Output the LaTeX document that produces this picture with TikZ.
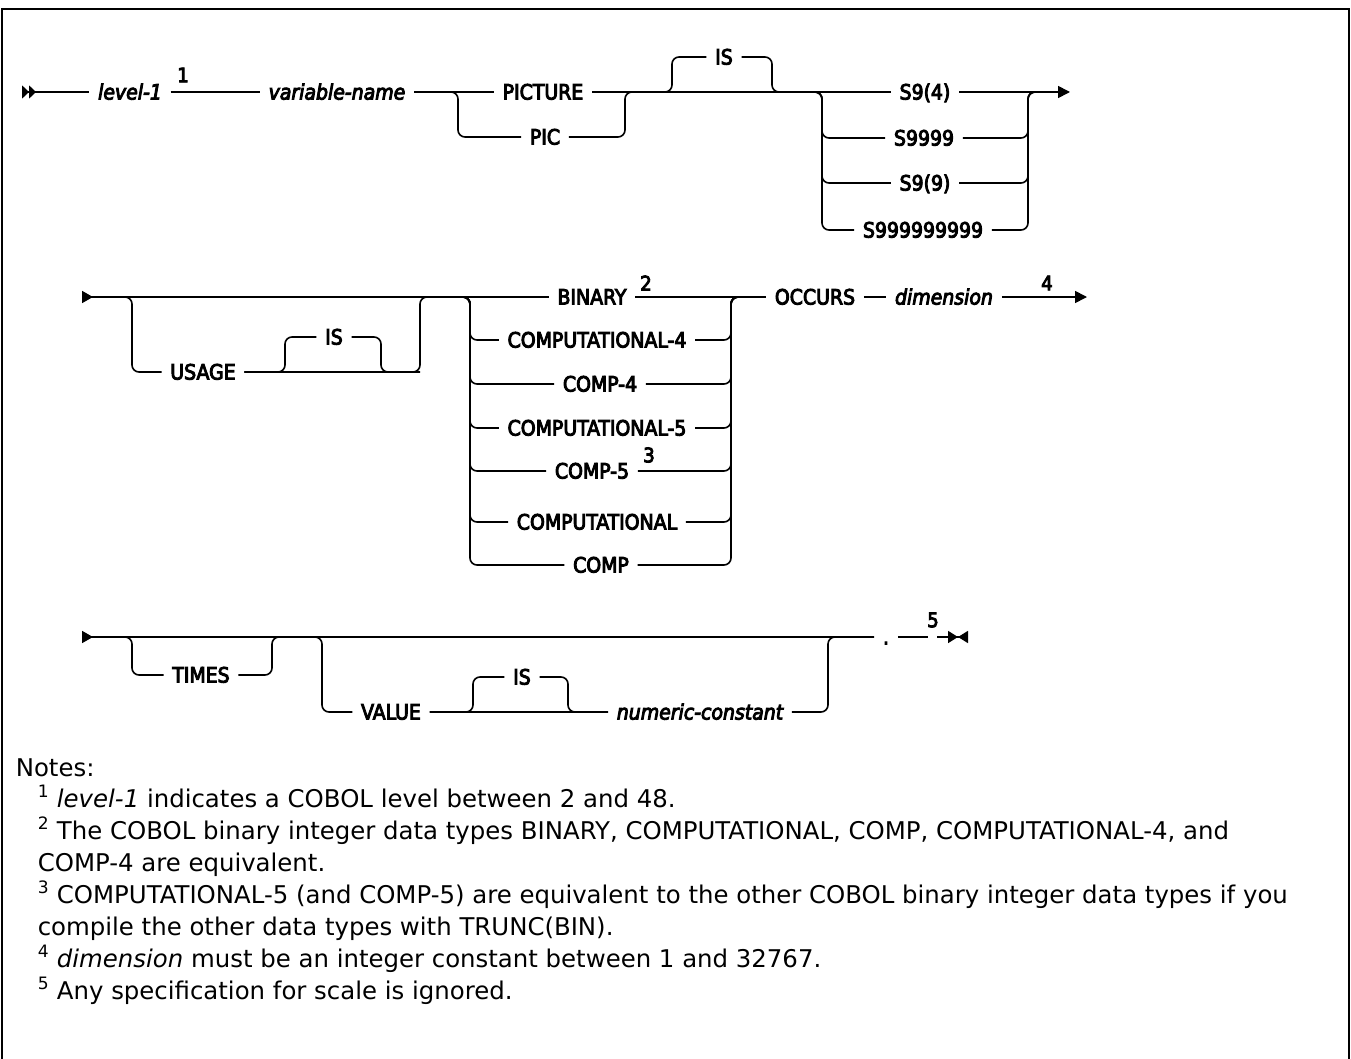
\documentclass[tikz,border=0pt]{standalone}
\usepackage{fontspec}
\setmainfont{DejaVu Sans}
\newfontfamily\kwfont[FakeBold=4.5]{DejaVu Sans Condensed}
\usetikzlibrary{arrows.meta}

\begin{document}
\begin{tikzpicture}[x=1pt,y=-1pt,line width=1.6pt,
  kw/.style={font=\kwfont\fontsize{21}{24}\selectfont,inner xsep=8pt,inner ysep=0pt,text height=15pt,text depth=0pt},
  var/.style={kw,font=\kwfont\itshape\fontsize{21}{24}\selectfont},
  sup/.style={font=\kwfont\fontsize{20}{20}\selectfont,inner sep=0pt},
  note/.style={anchor=base west,inner sep=0pt,font=\fontsize{24.4}{28}\selectfont},
  rc/.style={rounded corners=7pt},
  tip/.style={-{Triangle[length=12pt,width=12pt]}},
  start1/.style={{Triangle[reversed,length=11pt,width=12pt]}-},
  start2/.style={{Triangle[reversed,length=7pt,width=13pt]Triangle[reversed,length=7pt,width=13pt]}-},
  endtip/.style={-{Triangle[length=10pt,width=12pt]Triangle[reversed,length=10pt,width=12pt]}}]
\useasboundingbox (0,0) rectangle (1351,1059);
\draw[line width=2.5pt] (2,1075) -- (2,9) -- (1349,9) -- (1349,1075);

% row 1
\coordinate (s1) at (22,92);
\node[var] (lev) at (130,92) {level-1};
\node[sup] (sup1) at (183,75) {1};
\node[var] (var) at (337,92) {variable-name};
\coordinate (a1) at (458,92);
\node[kw] (pict) at (543,92) {PICTURE};
\node[kw] (pic) at (545,137) {PIC};
\coordinate (b1) at (625,92);
\coordinate (u1) at (672,92);
\node[kw] (is1) at (724,57) {IS};
\coordinate (v1) at (772,92);
\coordinate (w1) at (822,92);
\node[kw] (s94) at (925,92) {S9(4)};
\node[kw] (s9999) at (924,138) {S9999};
\node[kw] (s99) at (925,183) {S9(9)};
\node[kw] (s9x) at (923,230) {S999999999};
\coordinate (x1) at (1028,92);
\coordinate (m1) at (1040,92);
\coordinate (e1) at (1070,92);

\draw[start2] (s1) -- (lev.west);
\draw (lev.east) -- (var.west);
\draw (var.east) -- (pict.west);
\draw[rc] (var.east) -- (a1) -- (a1 |- pic) -- (pic.west);
\draw[rc] (pic.east) -- (b1 |- pic) -- (b1) -- (u1);
\draw (pict.east) -- (s94.west);
\draw[rc] (b1) -- (u1) -- (u1 |- is1) -- (is1.west);
\draw[rc] (is1.east) -- (v1 |- is1) -- (v1) -- (w1);
\foreach \n in {s9999,s99,s9x}{
  \draw[rc] (v1) -- (w1) -- (w1 |- \n) -- (\n.west);
  \draw[rc] (\n.east) -- (x1 |- \n) -- (x1) -- (m1);
}
\draw[tip] (s94.east) -- (e1);

% row 2
\coordinate (s2) at (82,297);
\coordinate (a2) at (132,297);
\node[kw] (usage) at (203,372) {USAGE};
\coordinate (u2) at (285,372);
\node[kw] (is2) at (334,337) {IS};
\coordinate (v2) at (381,372);
\coordinate (b2) at (420,297);
\coordinate (w2) at (470,297);
\node[kw] (bin) at (592,297) {BINARY};
\node[sup] (sup2) at (646,283) {2};
\node[kw] (c4) at (597,340) {COMPUTATIONAL-4};
\node[kw] (cp4) at (600,384) {COMP-4};
\node[kw] (c5) at (597,428) {COMPUTATIONAL-5};
\node[kw] (cp5) at (592,471) {COMP-5};
\node[sup] (sup3) at (649,455) {3};
\node[kw] (comp) at (597,522) {COMPUTATIONAL};
\node[kw] (cmp) at (601,565) {COMP};
\coordinate (x2) at (731,297);
\coordinate (m2) at (743,297);
\node[kw] (occ) at (815,297) {OCCURS};
\node[var] (dim) at (944,297) {dimension};
\node[sup] (sup4) at (1047,283) {4};
\coordinate (e2) at (1087,297);

\draw[start1] (s2) -- (bin.west);
\draw[rc] (s2) -- (a2) -- (a2 |- usage) -- (usage.west);
\draw[rc] (usage.east) -- (b2 |- usage) -- (b2) -- (w2);
\draw[rc] (usage.east) -- (u2) -- (u2 |- is2) -- (is2.west);
\draw[rc] (is2.east) -- (v2 |- is2) -- (v2) -- (b2 |- usage);
\draw (bin.east) -- (occ.west);
\foreach \n in {c4,cp4,c5,cp5,comp,cmp}{
  \draw[rc] (b2) -- (w2) -- (w2 |- \n) -- (\n.west);
  \draw[rc] (\n.east) -- (x2 |- \n) -- (x2) -- (m2);
}
\draw (occ.east) -- (dim.west);
\draw[tip] (dim.east) -- (e2);

% row 3
\coordinate (s3) at (82,637);
\coordinate (a3) at (132,637);
\node[kw] (times) at (201,675) {TIMES};
\coordinate (b3) at (272,637);
\coordinate (w3) at (322,637);
\node[kw] (value) at (391,712) {VALUE};
\coordinate (u3) at (473,712);
\node[kw] (is3) at (522,677) {IS};
\coordinate (v3) at (568,712);
\node[var] (numc) at (700,712) {numeric-constant};
\coordinate (x3) at (828,637);
\node[kw] (dot) at (886,637) {.};
\coordinate (g1) at (928,637);
\node[sup] (sup5) at (933,620) {5};
\coordinate (g2) at (937,637);
\coordinate (e3) at (968,637);

\draw[start1] (s3) -- (dot.west);
\draw[rc] (s3) -- (a3) -- (a3 |- times) -- (times.west);
\draw[rc] (times.east) -- (b3 |- times) -- (b3) -- (w3);
\draw[rc] (b3) -- (w3) -- (w3 |- value) -- (value.west);
\draw (value.east) -- (numc.west);
\draw[rc] (value.east) -- (u3) -- (u3 |- is3) -- (is3.west);
\draw[rc] (is3.east) -- (v3 |- is3) -- (v3) -- (numc.west);
\draw[rc] (numc.east) -- (x3 |- numc) -- (x3) -- (dot.west);
\draw (dot.east) -- (g1);
\draw[endtip] (g2) -- (e3);

% notes
\node[note] (hd) at (15,776) {Notes:};
\node[note] (nt1) at (37,807) {\textsuperscript{1} \textit{level-1} indicates a COBOL level between 2 and 48.};
\node[note] (nt2) at (37,839) {\textsuperscript{2} The COBOL binary integer data types BINARY, COMPUTATIONAL, COMP, COMPUTATIONAL-4, and};
\node[note] (nt2b) at (37,871) {COMP-4 are equivalent.};
\node[note] (nt3) at (37,903) {\textsuperscript{3} COMPUTATIONAL-5 (and COMP-5) are equivalent to the other COBOL binary integer data types if you};
\node[note] (nt3b) at (37,935) {compile the other data types with TRUNC(BIN).};
\node[note] (nt4) at (37,967) {\textsuperscript{4} \textit{dimension} must be an integer constant between 1 and 32767.};
\node[note] (nt5) at (37,999) {\textsuperscript{5} Any specification for scale is ignored.};
\end{tikzpicture}
\end{document}
